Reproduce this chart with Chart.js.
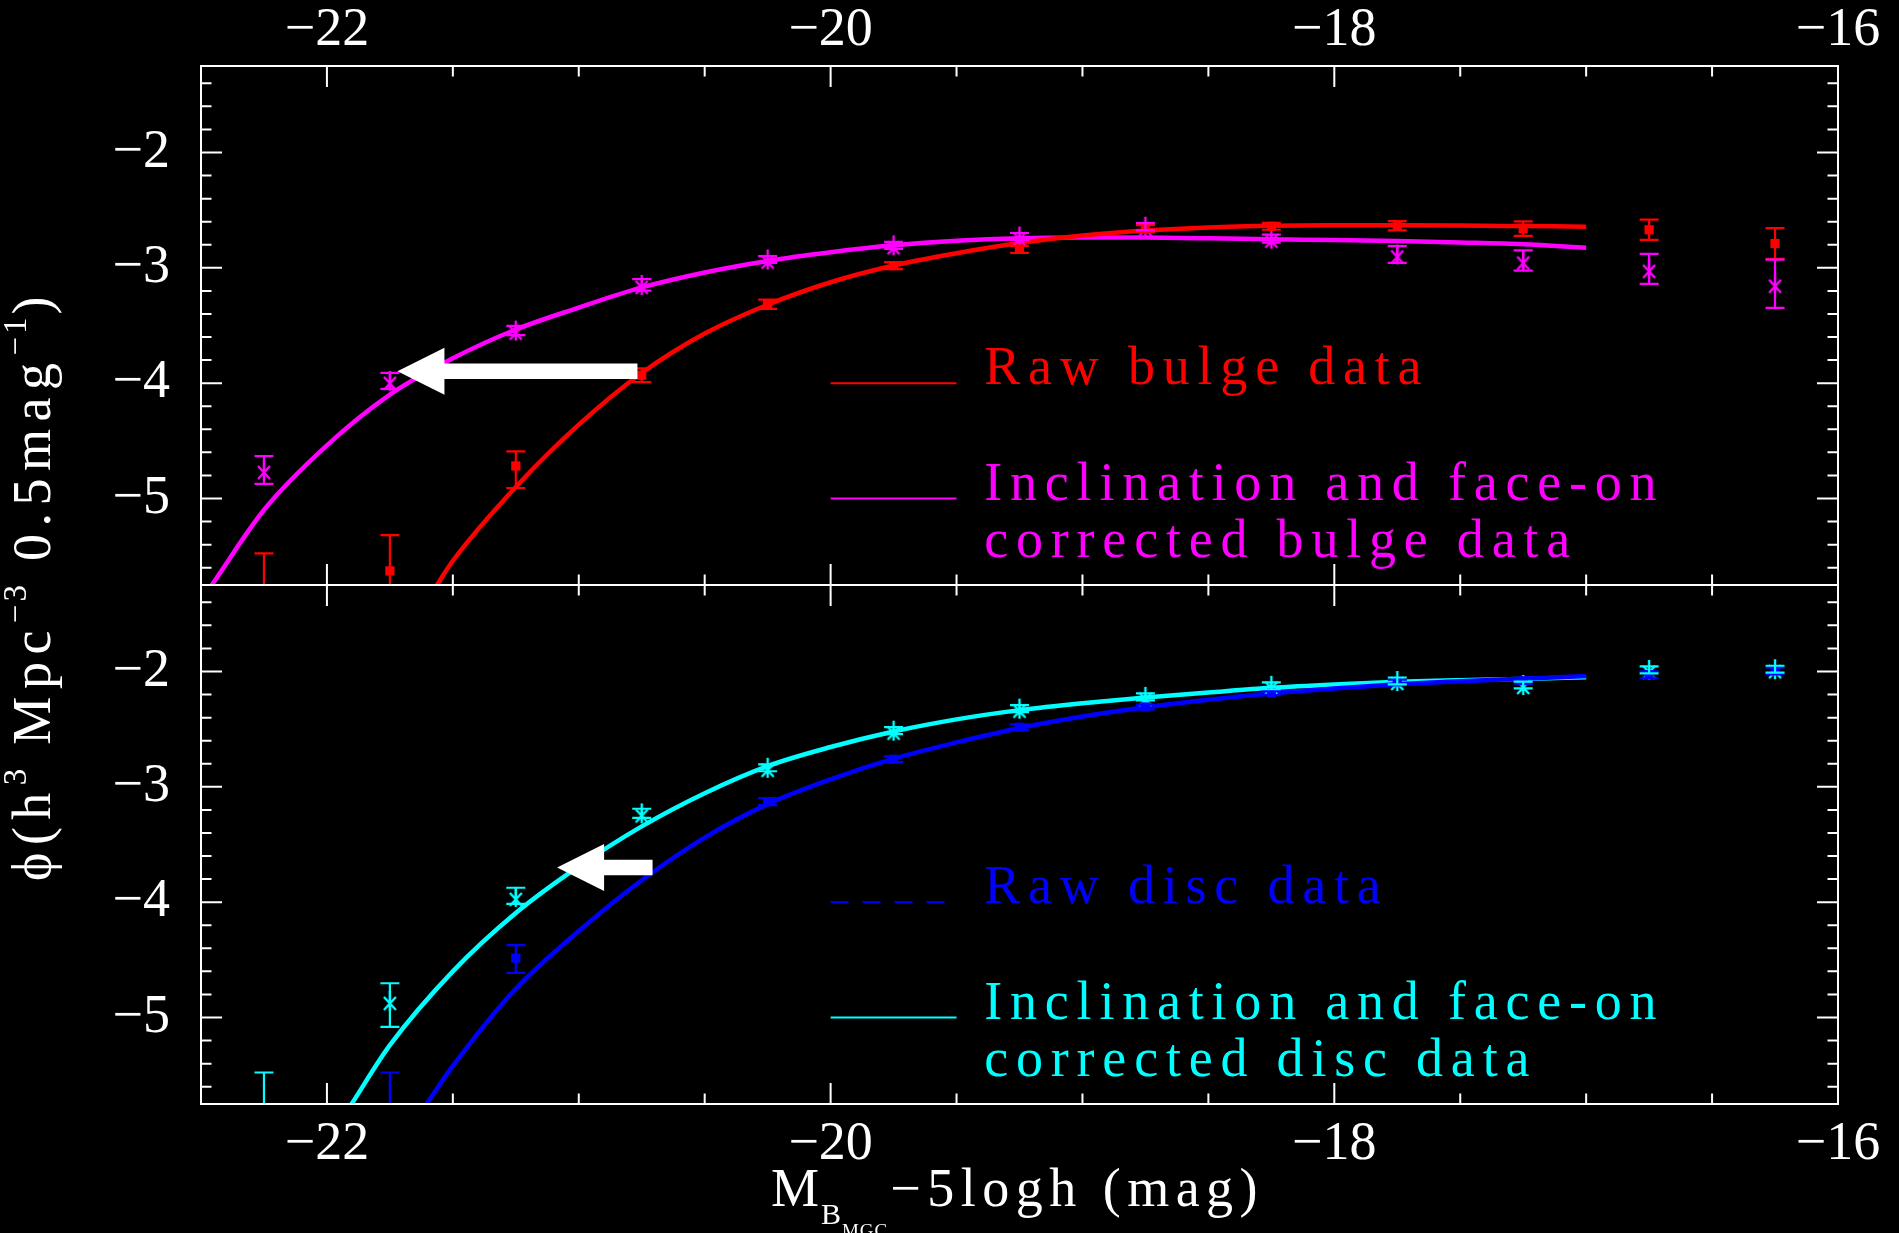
<!DOCTYPE html>
<html>
<head>
<meta charset="utf-8">
<script src="https://cdn.jsdelivr.net/npm/chart.js@4.4.1/dist/chart.umd.min.js"></script>
<style>
html,body{margin:0;padding:0;background:#000;overflow:hidden}
canvas{display:block}
</style>
</head>
<body>
<canvas id="c" width="1899" height="1233"></canvas>
<script>
// ================= DATA =================
const magBins = [-22.25,-21.75,-21.25,-20.75,-20.25,-19.75,-19.25,-18.75,-18.25,-17.75,-17.25,-16.75,-16.25];

// Raw bulge data (red squares); first bin is an upper limit only
const rawBulge      = [-6.0,-5.628,-4.718,-3.931,-3.315,-2.981,-2.840,-2.660,-2.640,-2.635,-2.660,-2.670,-2.789];
const rawBulgeErrUp = [0.525,0.31,0.126,0.06,0.04,0.03,0.03,0.03,0.03,0.04,0.063,0.088,0.134];
const rawBulgeErrDn = [0.525,0.31,0.191,0.06,0.04,0.03,0.03,0.03,0.03,0.04,0.063,0.088,0.134];

// Inclination and face-on corrected bulge data (magenta asterisks)
const corrBulge      = [-4.753,-3.980,-3.544,-3.148,-2.928,-2.805,-2.728,-2.643,-2.747,-2.884,-2.937,-3.009,-3.138];
const corrBulgeErrUp = [0.12,0.07,0.04,0.05,0.03,0.03,0.03,0.03,0.035,0.073,0.088,0.13,0.21];
const corrBulgeErrDn = [0.12,0.07,0.04,0.05,0.03,0.03,0.03,0.03,0.035,0.073,0.088,0.13,0.21];

// Raw disc data (blue squares)
const rawDisc      = [null,-6.0,-4.484,-3.700,-3.128,-2.761,-2.483,-2.308,-2.185,-2.090,-2.080,-2.029,-1.994];
const rawDiscErrUp = [0,0.523,0.112,0.04,0.03,0.025,0.025,0.02,0.02,0.02,0.025,0.03,0.03];
const rawDiscErrDn = [0,0.523,0.129,0.04,0.03,0.025,0.025,0.02,0.02,0.02,0.025,0.03,0.03];

// Inclination and face-on corrected disc data (cyan asterisks)
const corrDisc      = [-6.0,-4.856,-3.954,-3.230,-2.835,-2.513,-2.322,-2.220,-2.124,-2.082,-2.117,-1.986,-1.980];
const corrDiscErrUp = [0.523,0.153,0.079,0.04,0.03,0.03,0.03,0.03,0.03,0.03,0.03,0.03,0.03];
const corrDiscErrDn = [0.523,0.226,0.061,0.04,0.03,0.03,0.03,0.03,0.03,0.03,0.03,0.03,0.03];

// Fitted curves
const rawBulgeFitX = [-21.563,-21.5,-21.25,-21.0,-20.75,-20.5,-20.25,-20.0,-19.75,-19.5,-19.25,-19.0,-18.75,-18.5,-18.25,-18.0,-17.75,-17.5,-17.25,-17.0];
const rawBulgeFitY = [-5.750,-5.540,-4.900,-4.360,-3.912,-3.570,-3.320,-3.125,-2.980,-2.873,-2.785,-2.720,-2.677,-2.650,-2.636,-2.631,-2.630,-2.633,-2.638,-2.643];

const corrBulgeFitX = [-22.457,-22.25,-22.0,-21.75,-21.5,-21.25,-21.0,-20.75,-20.5,-20.25,-20.0,-19.75,-19.5,-19.25,-19.0,-18.75,-18.5,-18.25,-18.0,-17.75,-17.5,-17.25,-17.0];
const corrBulgeFitY = [-5.750,-5.100,-4.540,-4.100,-3.785,-3.535,-3.345,-3.170,-3.040,-2.940,-2.865,-2.805,-2.765,-2.743,-2.737,-2.738,-2.744,-2.752,-2.759,-2.767,-2.780,-2.796,-2.826];

const rawDiscFitX = [-21.604,-21.5,-21.25,-21.0,-20.75,-20.5,-20.25,-20.0,-19.75,-19.5,-19.25,-19.0,-18.75,-18.5,-18.25,-18.0,-17.75,-17.5,-17.25,-17.0];
const rawDiscFitY = [-5.750,-5.420,-4.750,-4.250,-3.810,-3.440,-3.150,-2.935,-2.756,-2.615,-2.490,-2.390,-2.310,-2.245,-2.190,-2.147,-2.111,-2.085,-2.062,-2.039];

const corrDiscFitX = [-21.902,-21.75,-21.5,-21.25,-21.0,-20.75,-20.5,-20.25,-20.0,-19.75,-19.5,-19.25,-19.0,-18.75,-18.5,-18.25,-18.0,-17.75,-17.5,-17.25,-17.0];
const corrDiscFitY = [-5.750,-5.240,-4.600,-4.094,-3.690,-3.343,-3.055,-2.820,-2.655,-2.520,-2.415,-2.335,-2.275,-2.225,-2.182,-2.141,-2.112,-2.089,-2.075,-2.065,-2.050];

// Arrows (shift from raw to corrected): tail x, tip x, y
const arrowTailX = [-20.767, -20.707];
const arrowTipX  = [-21.720, -21.086];
const arrowY     = [-3.897, -3.699];
const arrowPanel = ['yTop', 'yBot'];

// Axes
const xTickLabels = [-22, -20, -18, -16];
const yTickLabels = [-5, -4, -3, -2];
const xRange = [-22.5, -16];
const yRange = [-5.75, -1.25];

// Legend and titles
const legendLabels = [
  ['Raw bulge data'],
  ['Inclination and face-on', 'corrected bulge data'],
  ['Raw disc data'],
  ['Inclination and face-on', 'corrected disc data']
];
const xTitle = ['M', 'B', 'MGC', '−5logh (mag)'];
const yTitle = ['ϕ(h', '3', ' Mpc', '−3', ' 0.5mag', '−1', ')'];

// ================= STYLE =================
const FONT = '"Liberation Serif", "DejaVu Serif", serif';
const RED = '#ff0000', MAG = '#ff00ff', BLUE = '#0000ff', CYAN = '#00ffff';

function pts(xs, ys) { return xs.map((x, i) => ({x: x, y: ys[i]})); }
function fmt(v) { return (v < 0 ? '−' : '') + Math.abs(v); }

function makeStar(color) {
  const c = document.createElement('canvas');
  c.width = 24; c.height = 24;
  const g = c.getContext('2d');
  g.strokeStyle = color; g.lineWidth = 2.4; g.lineCap = 'butt';
  g.beginPath();
  g.moveTo(12, 2); g.lineTo(12, 22);
  const dx = 6, dy = 9;
  g.moveTo(12 - dx, 12 - dy * 0.45); g.lineTo(12 + dx, 12 + dy);
  g.moveTo(12 + dx, 12 - dy * 0.45); g.lineTo(12 - dx, 12 + dy);
  g.stroke();
  return c;
}

function xTickList() {
  const out = [];
  for (let i = -44; i <= -32; i++) { const v = i / 2; out.push({value: v, major: xTickLabels.includes(v)}); }
  return out;
}
function yTickList() {
  const out = [];
  for (let i = -28; i <= -7; i++) { const v = i / 5; out.push({value: v, major: i % 5 === 0}); }
  return out;
}
const xLabel = v => xTickLabels.includes(v) ? fmt(v) : '';
const yLabel = v => yTickLabels.includes(v) ? fmt(v) : '';

function curve(xs, ys, color, axis) {
  return {data: pts(xs, ys), showLine: true, borderColor: color, backgroundColor: color, borderWidth: 4.5,
    pointRadius: 0, cubicInterpolationMode: 'monotone', xAxisID: 'x', yAxisID: axis, order: 2, clip: 0};
}
function points(ys, up, dn, color, style, radius, axis) {
  return {data: pts(magBins, ys), showLine: false, borderColor: color, backgroundColor: color, borderWidth: 0,
    pointStyle: style, pointRadius: radius, errUp: up, errDn: dn, xAxisID: 'x', yAxisID: axis, order: 1, clip: 0};
}

// ================= PLUGINS =================
const background = {
  id: 'background',
  beforeDraw(chart) {
    const c = chart.ctx; c.save(); c.fillStyle = '#000'; c.fillRect(0, 0, chart.width, chart.height); c.restore();
  }
};

const errorBars = {
  id: 'errorBars',
  afterDatasetsDraw(chart) {
    const ctx = chart.ctx;
    chart.data.datasets.forEach((ds, i) => {
      if (!ds.errUp) return;
      const meta = chart.getDatasetMeta(i);
      const xs = chart.scales[meta.xAxisID], ys = chart.scales[meta.yAxisID];
      ctx.save();
      ctx.beginPath(); ctx.rect(xs.left, ys.top, xs.right - xs.left, ys.bottom - ys.top); ctx.clip();
      ctx.strokeStyle = ds.borderColor; ctx.lineWidth = 2.2;
      ctx.beginPath();
      ds.data.forEach((p, j) => {
        if (p.y == null) return;
        const px = xs.getPixelForValue(p.x);
        const t = ys.getPixelForValue(p.y + ds.errUp[j]);
        const b = ys.getPixelForValue(p.y - ds.errDn[j]);
        ctx.moveTo(px, t); ctx.lineTo(px, b);
        ctx.moveTo(px - 9.5, t); ctx.lineTo(px + 9.5, t);
        ctx.moveTo(px - 9.5, b); ctx.lineTo(px + 9.5, b);
      });
      ctx.stroke();
      ctx.restore();
    });
  }
};

const frame = {
  id: 'frame',
  afterDatasetsDraw(chart) {
    const ctx = chart.ctx, x = chart.scales.x;
    ctx.save();
    ctx.strokeStyle = '#fff'; ctx.lineWidth = 2;
    for (const ys of [chart.scales.yTop, chart.scales.yBot]) {
      const L = x.left, R = x.right, T = ys.top, B = ys.bottom;
      ctx.strokeRect(L, T, R - L, B - T);
      ctx.beginPath();
      for (const t of x.ticks) {
        const px = x.getPixelForValue(t.value), len = t.major ? 21 : 10.5;
        ctx.moveTo(px, T); ctx.lineTo(px, T + len);
        ctx.moveTo(px, B); ctx.lineTo(px, B - len);
      }
      for (const t of ys.ticks) {
        const py = ys.getPixelForValue(t.value), len = t.major ? 21 : 10.5;
        ctx.moveTo(L, py); ctx.lineTo(L + len, py);
        ctx.moveTo(R, py); ctx.lineTo(R - len, py);
      }
      ctx.stroke();
    }
    ctx.restore();
  }
};

const arrows = {
  id: 'arrows',
  afterDatasetsDraw(chart) {
    const ctx = chart.ctx, x = chart.scales.x;
    ctx.save(); ctx.fillStyle = '#fff';
    arrowTailX.forEach((tx, i) => {
      const ys = chart.scales[arrowPanel[i]];
      const xt = x.getPixelForValue(tx), xp = x.getPixelForValue(arrowTipX[i]), y = ys.getPixelForValue(arrowY[i]);
      const shaft = 15.5, headL = 47, headH = 47;
      ctx.beginPath();
      ctx.moveTo(xp, y);
      ctx.lineTo(xp + headL, y - headH / 2);
      ctx.lineTo(xp + headL, y - shaft / 2);
      ctx.lineTo(xt, y - shaft / 2);
      ctx.lineTo(xt, y + shaft / 2);
      ctx.lineTo(xp + headL, y + shaft / 2);
      ctx.lineTo(xp + headL, y + headH / 2);
      ctx.closePath(); ctx.fill();
    });
    ctx.restore();
  }
};

const pgLegend = {
  id: 'pgLegend',
  afterDatasetsDraw(chart, args, opts) {
    const ctx = chart.ctx, x = chart.scales.x;
    ctx.save();
    opts.rows.forEach((row, i) => {
      const ys = chart.scales[row.axis];
      const y = ys.getPixelForValue(row.y);
      ctx.strokeStyle = row.color; ctx.lineWidth = 2; ctx.setLineDash(row.dash);
      ctx.beginPath(); ctx.moveTo(x.getPixelForValue(opts.x0), y); ctx.lineTo(x.getPixelForValue(opts.x1), y); ctx.stroke();
      ctx.setLineDash([]);
      ctx.fillStyle = row.color; ctx.font = opts.size + 'px ' + FONT; ctx.letterSpacing = opts.spacing + 'px';
      ctx.textBaseline = 'alphabetic'; ctx.textAlign = 'left';
      legendLabels[i].forEach((line, k) => ctx.fillText(line, x.getPixelForValue(opts.textX), y + 1 + k * opts.lineGap));
    });
    ctx.restore();
  }
};

function runs(ctx, parts, draw) {
  let pos = 0;
  for (const p of parts) {
    ctx.font = p.size + 'px ' + FONT; ctx.letterSpacing = p.ls + 'px';
    if (draw) ctx.fillText(p.t, pos, p.dy);
    pos += ctx.measureText(p.t).width + (p.gap || 0);
  }
  return pos;
}

const titles = {
  id: 'titles',
  afterDraw(chart) {
    const ctx = chart.ctx, x = chart.scales.x;
    ctx.save();
    ctx.fillStyle = '#fff'; ctx.textBaseline = 'alphabetic'; ctx.textAlign = 'left';
    // x title
    const xp = [
      {t: xTitle[0], size: 54, dy: 0, ls: 2},
      {t: xTitle[1], size: 30, dy: 18, ls: 1},
      {t: xTitle[2], size: 19, dy: 31, ls: 1, gap: 2},
      {t: xTitle[3], size: 54, dy: 0, ls: 6.5}
    ];
    const wx = runs(ctx, xp, false);
    ctx.save(); ctx.translate((x.left + x.right) / 2 - wx / 2 - 2, 1206); runs(ctx, xp, true); ctx.restore();
    // y title
    const sup = 33, sdy = -24;
    const yp = [
      {t: yTitle[0], size: 54, dy: 0, ls: 7.5},
      {t: yTitle[1], size: sup, dy: sdy, ls: 3},
      {t: yTitle[2], size: 54, dy: 0, ls: 7.5},
      {t: yTitle[3], size: sup, dy: sdy, ls: 3},
      {t: yTitle[4], size: 54, dy: 0, ls: 7.5},
      {t: yTitle[5], size: sup, dy: sdy, ls: 3},
      {t: yTitle[6], size: 54, dy: 0, ls: 7.5}
    ];
    const wy = runs(ctx, yp, false);
    const cy = (chart.scales.yTop.top + chart.scales.yBot.bottom) / 2;
    ctx.save(); ctx.translate(50, cy + wy / 2); ctx.rotate(-Math.PI / 2); runs(ctx, yp, true); ctx.restore();
    ctx.restore();
  }
};

// ================= CHART =================
const tickFont = {family: FONT, size: 54};
function xScale(pos, height, pad) {
  return {type: 'linear', axis: 'x', position: pos, min: xRange[0], max: xRange[1],
    afterBuildTicks: s => { s.ticks = xTickList(); },
    afterFit: s => { s.height = height; },
    grid: {display: false, drawTicks: false}, border: {display: false},
    ticks: {autoSkip: false, maxRotation: 0, minRotation: 0, padding: pad, color: '#fff', font: tickFont, callback: xLabel}};
}
function yScale(weight) {
  return {type: 'linear', axis: 'y', position: 'left', stack: 'phi', stackWeight: 1, weight: weight,
    min: yRange[0], max: yRange[1],
    afterBuildTicks: s => { s.ticks = yTickList(); },
    afterFit: s => { s.width = 201; },
    grid: {display: false, drawTicks: false}, border: {display: false},
    ticks: {autoSkip: false, padding: 31, color: '#fff', font: tickFont, callback: yLabel}};
}

new Chart(document.getElementById('c'), {
  type: 'scatter',
  data: {
    datasets: [
      points(rawBulge, rawBulgeErrUp, rawBulgeErrDn, RED, 'rect', 6.5, 'yTop'),
      points(corrBulge, corrBulgeErrUp, corrBulgeErrDn, MAG, makeStar(MAG), 10, 'yTop'),
      points(rawDisc, rawDiscErrUp, rawDiscErrDn, BLUE, 'rect', 6.5, 'yBot'),
      points(corrDisc, corrDiscErrUp, corrDiscErrDn, CYAN, makeStar(CYAN), 10, 'yBot'),
      curve(rawBulgeFitX, rawBulgeFitY, RED, 'yTop'),
      curve(corrBulgeFitX, corrBulgeFitY, MAG, 'yTop'),
      curve(rawDiscFitX, rawDiscFitY, BLUE, 'yBot'),
      curve(corrDiscFitX, corrDiscFitY, CYAN, 'yBot')
    ]
  },
  options: {
    responsive: false, animation: false, devicePixelRatio: 1,
    layout: {padding: {left: 0, right: 61, top: 0, bottom: 0}},
    plugins: {
      legend: {display: false}, tooltip: {enabled: false},
      pgLegend: {
        x0: -20, x1: -19.5, textX: -19.39, size: 54, spacing: 7.8, lineGap: 57,
        rows: [
          {axis: 'yTop', y: -4, color: RED, dash: []},
          {axis: 'yTop', y: -5, color: MAG, dash: []},
          {axis: 'yBot', y: -4, color: BLUE, dash: [18, 14]},
          {axis: 'yBot', y: -5, color: CYAN, dash: []}
        ]
      }
    },
    scales: {
      x: xScale('bottom', 129, 8),
      x2: xScale('top', 66, 3),
      yBot: yScale(0),
      yTop: yScale(1)
    }
  },
  plugins: [background, errorBars, frame, arrows, pgLegend, titles]
});
</script>
</body>
</html>
